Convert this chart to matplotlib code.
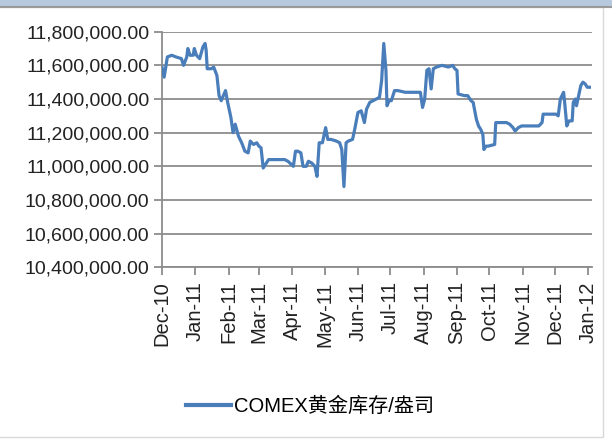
import matplotlib
matplotlib.use("Agg")
import matplotlib.pyplot as plt
import matplotlib.dates as mdates
import matplotlib.ticker as mticker
from matplotlib.patches import Rectangle
from matplotlib.lines import Line2D
import datetime as dt

plt.rcParams['font.family'] = ['Liberation Sans', 'Noto Sans CJK SC', 'DejaVu Sans']

# COMEX gold inventory (troy ounces), Dec 2010 - Jan 2012
dates = [
    "2010-12-01", "2010-12-03", "2010-12-06", "2010-12-10", "2010-12-14", "2010-12-19",
    "2010-12-21", "2010-12-24", "2010-12-25", "2010-12-27", "2010-12-30", "2010-12-31",
    "2011-01-02", "2011-01-05", "2011-01-08", "2011-01-10", "2011-01-11", "2011-01-12",
    "2011-01-16", "2011-01-18", "2011-01-21", "2011-01-23", "2011-01-25", "2011-01-27",
    "2011-01-29", "2011-01-31", "2011-02-03", "2011-02-05", "2011-02-07", "2011-02-10",
    "2011-02-13", "2011-02-16", "2011-02-19", "2011-02-21", "2011-02-24", "2011-02-27",
    "2011-03-01", "2011-03-03", "2011-03-05", "2011-03-08", "2011-03-10", "2011-03-13",
    "2011-03-25", "2011-03-28", "2011-04-02", "2011-04-04", "2011-04-06", "2011-04-09",
    "2011-04-11", "2011-04-14", "2011-04-16", "2011-04-19", "2011-04-22", "2011-04-24",
    "2011-04-26", "2011-04-29", "2011-05-02", "2011-05-04", "2011-05-07", "2011-05-12",
    "2011-05-15", "2011-05-17", "2011-05-19", "2011-05-21", "2011-05-23", "2011-05-27",
    "2011-05-29", "2011-06-01", "2011-06-04", "2011-06-07", "2011-06-09", "2011-06-12",
    "2011-06-15", "2011-06-18", "2011-06-21", "2011-06-23", "2011-06-25", "2011-06-27",
    "2011-06-28", "2011-06-30", "2011-07-02", "2011-07-05", "2011-07-08", "2011-07-15",
    "2011-07-29", "2011-07-31", "2011-08-02", "2011-08-04", "2011-08-06", "2011-08-08",
    "2011-08-10", "2011-08-13", "2011-08-18", "2011-08-24", "2011-08-28", "2011-08-30",
    "2011-09-01", "2011-09-02", "2011-09-08", "2011-09-11", "2011-09-14", "2011-09-16",
    "2011-09-19", "2011-09-21", "2011-09-23", "2011-09-25", "2011-09-26", "2011-09-28",
    "2011-09-30", "2011-10-06", "2011-10-07", "2011-10-12", "2011-10-17", "2011-10-20",
    "2011-10-23", "2011-10-25", "2011-10-28", "2011-10-31", "2011-11-05", "2011-11-11",
    "2011-11-16", "2011-11-19", "2011-11-20", "2011-11-25", "2011-12-02", "2011-12-04",
    "2011-12-06", "2011-12-09", "2011-12-10", "2011-12-12", "2011-12-14", "2011-12-17",
    "2011-12-18", "2011-12-20", "2011-12-21", "2011-12-23", "2011-12-25", "2011-12-27",
    "2011-12-29", "2011-12-31", "2012-01-02",
]
inventory = [
    11590000, 11530000, 11650000, 11660000, 11650000, 11640000,
    11600000, 11650000, 11700000, 11660000, 11660000, 11700000,
    11660000, 11640000, 11710000, 11730000, 11690000, 11580000,
    11580000, 11590000, 11540000, 11420000, 11390000, 11420000,
    11450000, 11380000, 11290000, 11200000, 11250000, 11180000,
    11140000, 11090000, 11080000, 11150000, 11130000, 11140000,
    11120000, 11110000, 10990000, 11020000, 11040000, 11040000,
    11040000, 11030000, 11000000, 11090000, 11090000, 11080000,
    11000000, 11000000, 11030000, 11020000, 11000000, 10940000,
    11140000, 11140000, 11230000, 11160000, 11160000, 11150000,
    11140000, 11100000, 10880000, 11140000, 11150000, 11160000,
    11220000, 11320000, 11330000, 11260000, 11340000, 11380000,
    11390000, 11400000, 11410000, 11510000, 11730000, 11570000,
    11360000, 11390000, 11390000, 11450000, 11450000, 11440000,
    11440000, 11350000, 11400000, 11570000, 11580000, 11460000,
    11580000, 11590000, 11600000, 11590000, 11600000, 11580000,
    11570000, 11430000, 11420000, 11420000, 11390000, 11380000,
    11280000, 11240000, 11220000, 11190000, 11100000, 11120000,
    11120000, 11130000, 11260000, 11260000, 11260000, 11250000,
    11230000, 11210000, 11230000, 11240000, 11240000, 11240000,
    11240000, 11260000, 11310000, 11310000, 11310000, 11300000,
    11400000, 11440000, 11380000, 11240000, 11270000, 11270000,
    11380000, 11400000, 11360000, 11420000, 11480000, 11500000,
    11490000, 11470000, 11470000,
]
series_label = "COMEX黄金库存/盎司"
y_ticks = [10400000, 10600000, 10800000, 11000000, 11200000, 11400000, 11600000, 11800000]

x = [dt.datetime.strptime(d, "%Y-%m-%d") for d in dates]

W, H = 612, 441
fig = plt.figure(figsize=(W / 100, H / 100), dpi=100)
fig.patch.set_facecolor("white")

# chart frame: blue title strip and light border
fig.patches.append(Rectangle((0, 1 - 6 / H), 1, 6 / H, transform=fig.transFigure,
                             facecolor="#b7c9dd", edgecolor="none", zorder=0))
fig.lines.append(Line2D([0, 1], [1 - 7 / H, 1 - 7 / H], transform=fig.transFigure,
                        color="#9a9a9a", lw=1.5))
fig.patches.append(Rectangle((-0.01, 4 / H), 603 / W + 0.01, 1 - 11 / H,
                             transform=fig.transFigure, facecolor="none",
                             edgecolor="#d9d9d9", lw=1.0, zorder=0))

ax = fig.add_axes([162 / W, 1 - 267.3 / H, (592 - 162) / W, (267.3 - 31.7) / H])
ax.set_facecolor("white")

line_color = "#4a7ebb"
ax.plot(x, inventory, color=line_color, lw=2.3, solid_joinstyle="round", zorder=3)

ax.set_ylim(y_ticks[0], y_ticks[-1])
ax.set_yticks(y_ticks)
ax.yaxis.set_major_formatter(mticker.FuncFormatter(lambda v, p: f"{v:,.2f}"))
ax.grid(axis="y", color="#8c8c8c", lw=1.3, zorder=1)

start = mdates.date2num(dt.datetime(2010, 12, 1))
ax.set_xlim(start, start + 399.4)
ax.xaxis.set_major_locator(mdates.MonthLocator())
ax.xaxis.set_major_formatter(mdates.DateFormatter("%b-%y"))

for s in ["top", "right"]:
    ax.spines[s].set_visible(False)
for s in ["left", "bottom"]:
    ax.spines[s].set_color("#8c8c8c")
    ax.spines[s].set_linewidth(1.3)

ax.tick_params(axis="y", length=6, width=1.3, color="#8c8c8c", labelsize=14,
               labelcolor="#222222", pad=3)
ax.tick_params(axis="x", length=6, width=1.3, color="#8c8c8c", labelsize=14.5,
               labelcolor="#222222", labelrotation=90, pad=4)

handle = Line2D([], [], color=line_color, lw=3)
fig.legend([handle], [series_label], loc="center",
           bbox_to_anchor=(310 / W, 1 - 406 / H), frameon=False,
           fontsize=14.5, handlelength=2.2, handletextpad=0.15)

fig.savefig("out.png", dpi=100, facecolor="white")
